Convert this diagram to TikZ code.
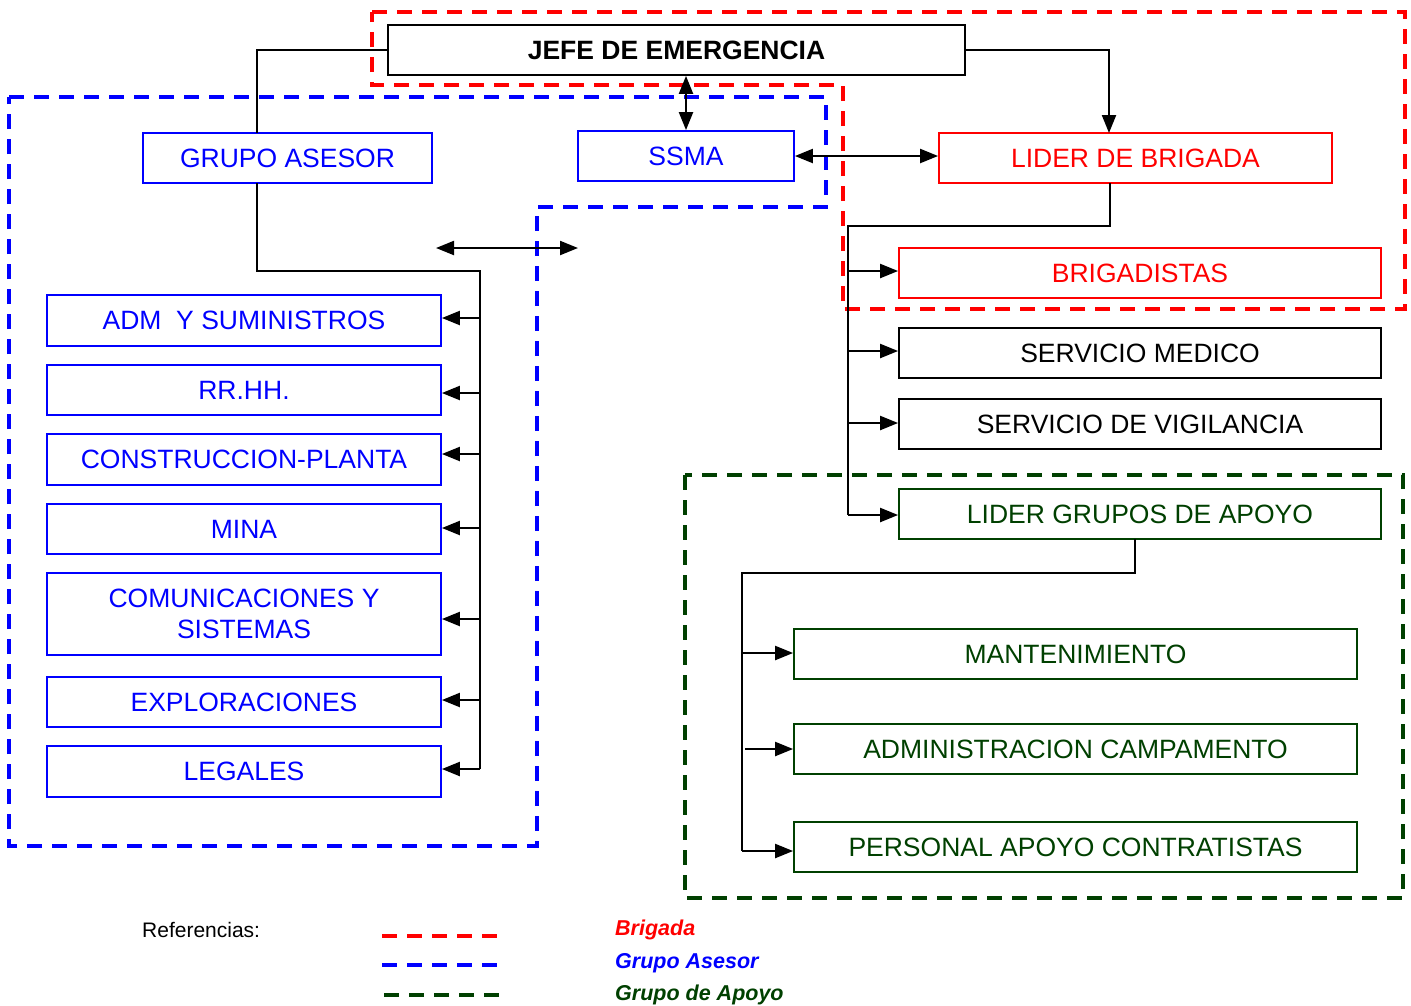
\documentclass[tikz,border=0pt]{standalone}
\usepackage{fontspec}
\setmainfont{Liberation Sans}
\usetikzlibrary{arrows.meta}
\definecolor{bblue}{RGB}{0,0,255}
\definecolor{rred}{RGB}{255,0,0}
\definecolor{ggreen}{RGB}{0,64,0}
\begin{document}
\begin{tikzpicture}[x=1pt,y=-1pt,
  box/.style={draw, line width=1.8pt, fill=white, inner sep=0pt, align=center,
    font=\fontsize{26.5}{31}\selectfont},
  blackbox/.style={box, draw=black, text=black},
  bluebox/.style={box, draw=bblue, text=bblue},
  redbox/.style={box, draw=rred, text=rred},
  greenbox/.style={box, draw=ggreen, text=ggreen},
  conn/.style={line width=2.2pt, black},
  arr/.style={conn, -{Triangle[length=18pt,width=14pt]}},
  darr/.style={conn, {Triangle[length=18pt,width=14pt]}-{Triangle[length=18pt,width=14pt]}},
  grp/.style={line width=3.5pt, dash pattern=on 15pt off 10pt},
  legtext/.style={anchor=west, font=\fontsize{21.5}{25}\selectfont\bfseries\itshape},
]
\useasboundingbox (0,0) rectangle (1411,1005);

% group outlines
\draw[grp, rred] (372,12) -- (1405,12) -- (1405,309) -- (843,309) -- (843,85) -- (372,85) -- cycle;
\draw[grp, bblue] (9,97) -- (826,97) -- (826,207) -- (537,207) -- (537,846) -- (9,846) -- cycle;
\draw[grp, ggreen] (685,475) rectangle (1403,898);

% nodes
\node[blackbox, minimum width=577pt, minimum height=50pt, font=\fontsize{26.5}{31}\selectfont\bfseries] (jefe) at (676.5,50) {JEFE DE EMERGENCIA};
\node[bluebox, minimum width=289pt, minimum height=50pt] (grupo) at (287.5,158) {GRUPO ASESOR};
\node[bluebox, minimum width=216pt, minimum height=50pt] (ssma) at (686,156) {SSMA};
\node[redbox, minimum width=393pt, minimum height=50pt] (lider) at (1135.5,158) {LIDER DE BRIGADA};
\node[redbox, minimum width=482pt, minimum height=50pt] (brig) at (1140,273) {BRIGADISTAS};
\node[blackbox, minimum width=482pt, minimum height=50pt] (smed) at (1140,353) {SERVICIO MEDICO};
\node[blackbox, minimum width=482pt, minimum height=50pt] (svig) at (1140,424) {SERVICIO DE VIGILANCIA};
\node[greenbox, minimum width=482pt, minimum height=50pt] (lga) at (1140,514) {LIDER GRUPOS DE APOYO};
\node[greenbox, minimum width=563pt, minimum height=50pt] (mant) at (1075.5,654) {MANTENIMIENTO};
\node[greenbox, minimum width=563pt, minimum height=50pt] (admc) at (1075.5,749) {ADMINISTRACION CAMPAMENTO};
\node[greenbox, minimum width=563pt, minimum height=50pt] (pers) at (1075.5,847) {PERSONAL APOYO CONTRATISTAS};

\node[bluebox, minimum width=394pt, minimum height=51pt] (adm) at (244,320.5) {ADM\ \ Y SUMINISTROS};
\node[bluebox, minimum width=394pt, minimum height=50pt] (rrhh) at (244,390) {RR.HH.};
\node[bluebox, minimum width=394pt, minimum height=51pt] (constr) at (244,459.5) {CONSTRUCCION-PLANTA};
\node[bluebox, minimum width=394pt, minimum height=50pt] (mina) at (244,529) {MINA};
\node[bluebox, minimum width=394pt, minimum height=82pt] (comm) at (244,614) {COMUNICACIONES Y\\SISTEMAS};
\node[bluebox, minimum width=394pt, minimum height=50pt] (expl) at (244,702) {EXPLORACIONES};
\node[bluebox, minimum width=394pt, minimum height=51pt] (leg) at (244,771.5) {LEGALES};

% helper coordinates
\coordinate (gaTop) at (257,133);
\coordinate (gaBot) at (257,183);
\coordinate (gaBend) at (480,271);
\coordinate (gaEnd) at (480,769);
\coordinate (lbTop) at (1109,133);
\coordinate (lbBot) at (1110,183);
\coordinate (lbBend) at (848,226);
\coordinate (lbEnd) at (848,515);
\coordinate (lgBot) at (1135,539);
\coordinate (lgBend) at (742,573);
\coordinate (lgEnd) at (742,851);
\coordinate (fa) at (436,248);
\coordinate (fb) at (578,248);

% connectors
\draw[conn] (jefe.west) -| (gaTop);
\draw[conn] (gaBot) |- (gaBend) -- (gaEnd);
\foreach \n/\y in {adm/318, rrhh/393, constr/454, mina/528, comm/619, expl/700, leg/769}
  \draw[arr] (480,\y) -- (\n.east |- 0,\y);

\draw[arr] (jefe.east) -| (lbTop);
\draw[darr] (ssma.north |- jefe.south) -- (ssma.north);
\draw[darr] (ssma.east) -- (ssma.east -| lider.west);

\draw[conn] (lbBot) |- (lbBend) -- (lbEnd);
\foreach \n/\y in {brig/271, smed/351, svig/423, lga/515}
  \draw[arr] (848,\y) -- (\n.west |- 0,\y);

\draw[conn] (lgBot) |- (lgBend) -- (lgEnd);
\draw[arr] (742,653) -- (mant.west |- 0,653);
\draw[arr] (745,749) -- (admc.west);
\draw[arr] (742,851) -- (pers.west |- 0,851);

\draw[darr] (fa) -- (fb);

% legend
\node[anchor=west, inner sep=0pt, font=\fontsize{21}{25}\selectfont] (ref) at (142,930) {Referencias:};
\draw[grp, rred] (382,936) -- (502,936);
\draw[grp, bblue] (382,965) -- (502,965);
\draw[grp, ggreen] (384,995) -- (504,995);
\node[legtext, inner sep=0pt, text=rred] (lbrig) at (615,930) {Brigada};
\node[legtext, inner sep=0pt, text=bblue] (lases) at (615,963) {Grupo Asesor};
\node[legtext, inner sep=0pt, text=ggreen] (lapoy) at (615,995) {Grupo de Apoyo};
\end{tikzpicture}
\end{document}
